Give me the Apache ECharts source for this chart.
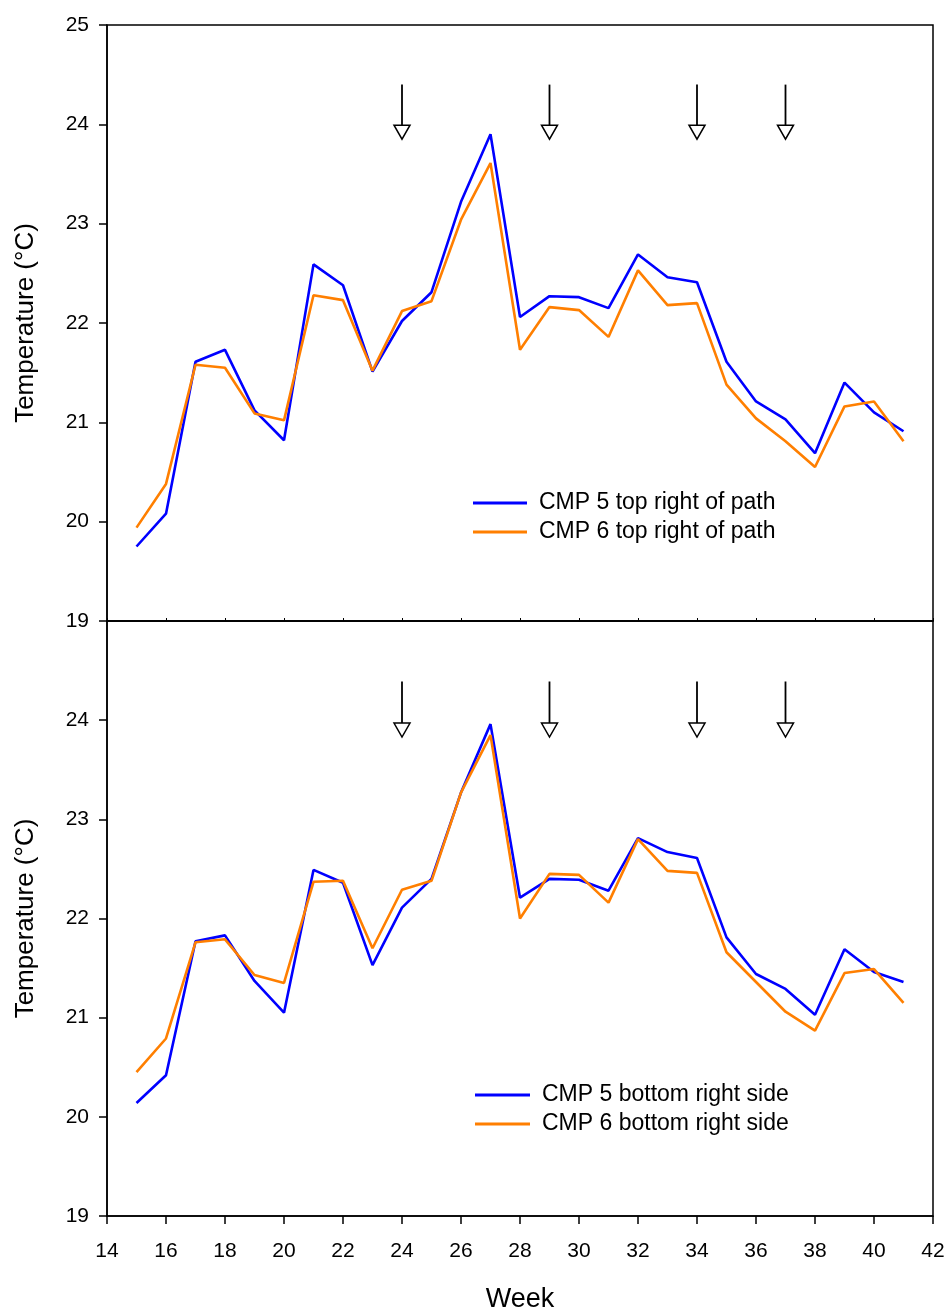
<!DOCTYPE html>
<html>
<head>
<meta charset="utf-8">
<script src="https://cdn.jsdelivr.net/npm/echarts@6/dist/echarts.min.js"></script>
<style>
html,body{margin:0;padding:0;background:#fff;}
#chart{width:949px;height:1314px;}
</style>
</head>
<body>
<div id="chart"></div>
<script>
const weeks = [15,16,17,18,19,20,21,22,23,24,25,26,27,28,29,30,31,32,33,34,35,36,37,38,39,40,41];

const topCmp5 = [19.75,20.08,21.61,21.73,21.12,20.82,22.59,22.38,21.51,22.02,22.31,23.22,23.90,22.06,22.27,22.26,22.15,22.69,22.46,22.41,21.61,21.21,21.03,20.69,21.40,21.10,20.91];
const topCmp6 = [19.94,20.38,21.58,21.55,21.09,21.02,22.28,22.23,21.52,22.12,22.22,23.04,23.61,21.73,22.16,22.13,21.86,22.53,22.18,22.20,21.38,21.04,20.81,20.55,21.16,21.21,20.81];

const botCmp5 = [20.14,20.42,21.77,21.83,21.37,21.05,22.49,22.36,21.53,22.11,22.40,23.27,23.96,22.21,22.40,22.39,22.28,22.81,22.67,22.61,21.81,21.44,21.29,21.03,21.69,21.46,21.36];
const botCmp6 = [20.45,20.79,21.76,21.79,21.43,21.35,22.37,22.38,21.70,22.29,22.38,23.27,23.85,22.00,22.45,22.44,22.16,22.80,22.48,22.46,21.66,21.36,21.06,20.87,21.45,21.49,21.15];

const arrowWeeks = [24,29,34,37];
const topArrow = {start: 24.40, tip: 23.85};
const botArrow = {start: 24.39, tip: 23.83};

const yTicks = [19,20,21,22,23,24,25];
const xTicks = [14,16,18,20,22,24,26,28,30,32,34,36,38,40,42];

const names = {
  t5: 'CMP 5 top right of path',
  t6: 'CMP 6 top right of path',
  b5: 'CMP 5 bottom right side',
  b6: 'CMP 6 bottom right side'
};

const FONT = '"Liberation Sans", Arial, sans-serif';
const BLUE = '#0000ff';
const ORANGE = '#ff7f00';

function pair(xs, ys){ return xs.map((x,i)=>[x, ys[i]]); }

function arrowRender(params, api){
  const p0 = api.coord([api.value(0), api.value(1)]);
  const p1 = api.coord([api.value(0), api.value(2)]);
  const h = 14, w = 8;
  return {
    type: 'group',
    children: [
      {type:'line', shape:{x1:p0[0], y1:p0[1], x2:p1[0], y2:p1[1]-h}, style:{stroke:'#000', lineWidth:1.8}},
      {type:'polygon', shape:{points:[[p1[0]-w,p1[1]-h],[p1[0]+w,p1[1]-h],[p1[0],p1[1]]]}, style:{fill:'#fff', stroke:'#000', lineWidth:1.5}}
    ]
  };
}

const lineStyleCommon = {width: 2.6};
const legendText = {fontFamily:FONT, fontSize:23, color:'#000', padding:[0,0,0,7], lineHeight:26};

const option = {
  animation: false,
  backgroundColor: '#fff',
  textStyle: {fontFamily: FONT},
  grid: [
    {left:107, right:16, top:25, height:596, show:true, borderColor:'#000', borderWidth:1.5, backgroundColor:'transparent'},
    {left:107, right:16, top:621, height:597, show:true, borderColor:'#000', borderWidth:1.5, backgroundColor:'transparent'}
  ],
  legend: [
    {
      data: [names.t5, names.t6], orient:'vertical', left:473, top:490, padding:0,
      itemWidth:54, itemHeight:3, icon:'rect', itemGap:3, textStyle:legendText
    },
    {
      data: [names.b5, names.b6], orient:'vertical', left:475, top:1082, padding:0,
      itemWidth:55, itemHeight:3, icon:'rect', itemGap:3, textStyle:legendText
    }
  ],
  xAxis: [
    {
      gridIndex:0, type:'value', min:14, max:42, interval:2,
      axisLine:{show:true, lineStyle:{color:'#000', width:1.5}},
      axisTick:{show:true, inside:true, length:3, lineStyle:{color:'#000', width:1}},
      axisLabel:{show:false}, splitLine:{show:false}
    },
    {
      gridIndex:1, type:'value', min:14, max:42, interval:2,
      name:'Week', nameLocation:'middle', nameGap:70,
      nameTextStyle:{fontFamily:FONT, fontSize:27, color:'#000'},
      axisLine:{show:true, lineStyle:{color:'#000', width:1.5}},
      axisTick:{show:true, length:8, lineStyle:{color:'#000', width:1.5}},
      axisLabel:{fontFamily:FONT, fontSize:21, color:'#000', margin:25,
        formatter: v => xTicks.includes(v) ? String(v) : ''},
      splitLine:{show:false}
    }
  ],
  yAxis: [
    {
      gridIndex:0, type:'value', min:19, max:25, interval:1,
      name:'Temperature (°C)', nameLocation:'middle', nameGap:68,
      nameTextStyle:{fontFamily:FONT, fontSize:26, color:'#000'},
      axisLine:{show:true, lineStyle:{color:'#000', width:1.5}},
      axisTick:{show:true, length:8, lineStyle:{color:'#000', width:1.5}},
      axisLabel:{fontFamily:FONT, fontSize:21, color:'#000', margin:18,
        formatter: v => yTicks.includes(v) ? String(v) : ''},
      splitLine:{show:false}
    },
    {
      gridIndex:1, type:'value', min:19, max:25, interval:1,
      name:'Temperature (°C)', nameLocation:'middle', nameGap:68,
      nameTextStyle:{fontFamily:FONT, fontSize:26, color:'#000'},
      axisLine:{show:true, lineStyle:{color:'#000', width:1.5}},
      axisTick:{show:true, length:8, lineStyle:{color:'#000', width:1.5}},
      axisLabel:{fontFamily:FONT, fontSize:21, color:'#000', margin:18,
        formatter: v => (yTicks.includes(v) && v !== 25) ? String(v) : ''},
      splitLine:{show:false}
    }
  ],
  series: [
    {name:names.t5, type:'line', xAxisIndex:0, yAxisIndex:0, data:pair(weeks, topCmp5), showSymbol:false, color:BLUE, lineStyle:lineStyleCommon, z:3},
    {name:names.t6, type:'line', xAxisIndex:0, yAxisIndex:0, data:pair(weeks, topCmp6), showSymbol:false, color:ORANGE, lineStyle:lineStyleCommon, z:4},
    {name:names.b5, type:'line', xAxisIndex:1, yAxisIndex:1, data:pair(weeks, botCmp5), showSymbol:false, color:BLUE, lineStyle:lineStyleCommon, z:3},
    {name:names.b6, type:'line', xAxisIndex:1, yAxisIndex:1, data:pair(weeks, botCmp6), showSymbol:false, color:ORANGE, lineStyle:lineStyleCommon, z:4},
    {type:'custom', xAxisIndex:0, yAxisIndex:0, renderItem:arrowRender, data:arrowWeeks.map(w=>[w, topArrow.start, topArrow.tip]), z:5, silent:true},
    {type:'custom', xAxisIndex:1, yAxisIndex:1, renderItem:arrowRender, data:arrowWeeks.map(w=>[w, botArrow.start, botArrow.tip]), z:5, silent:true}
  ]
};

const chart = echarts.init(document.getElementById('chart'), null, {renderer:'canvas'});
chart.setOption(option);
</script>
</body>
</html>
